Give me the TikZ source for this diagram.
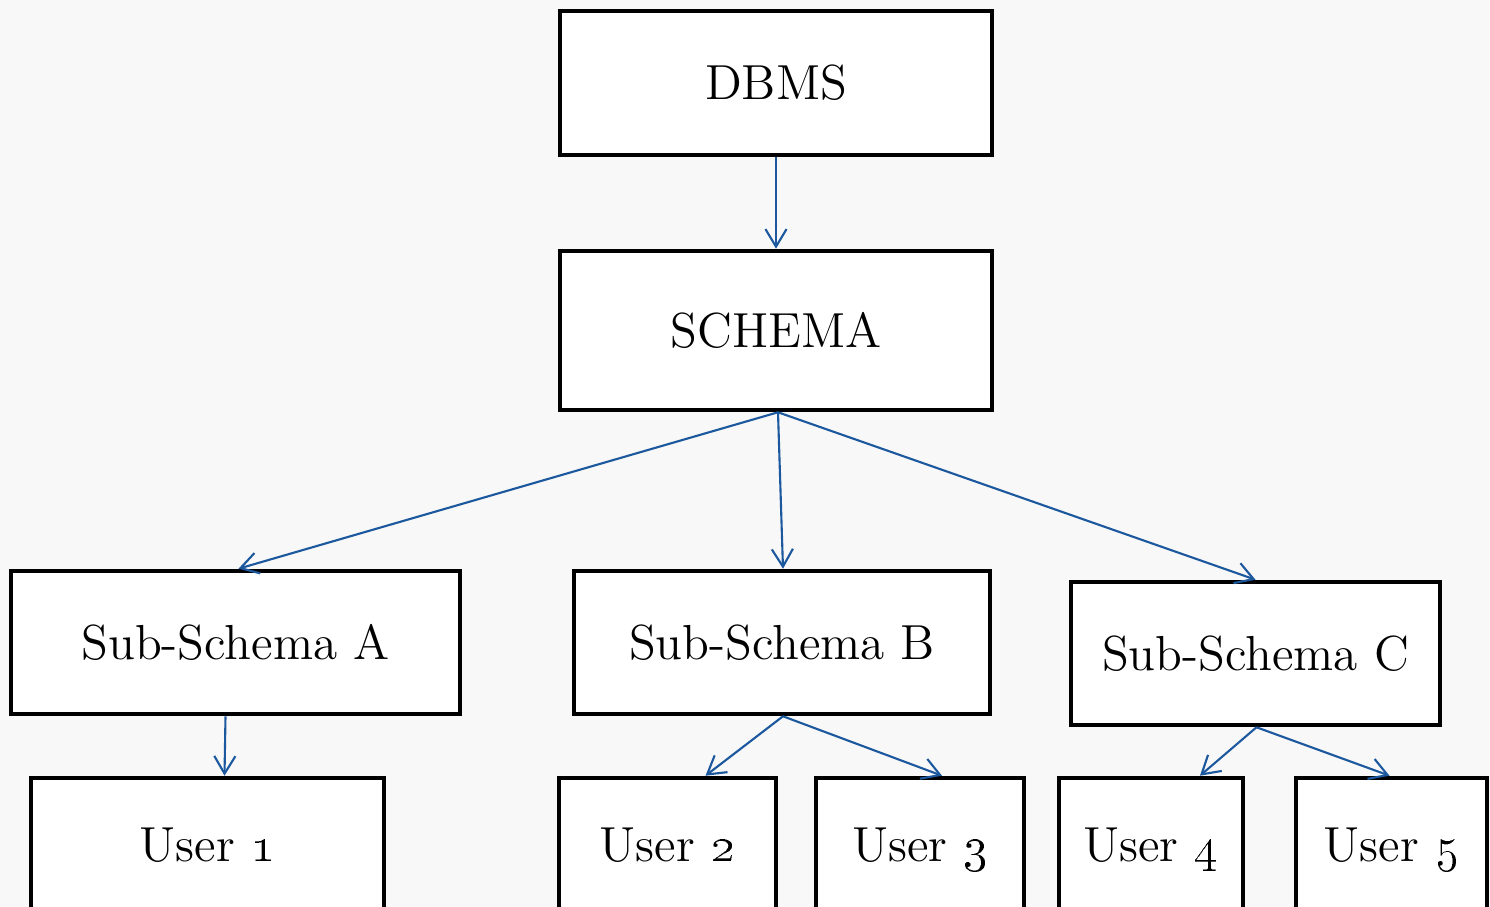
\documentclass[tikz,border=0pt]{standalone}
\usetikzlibrary{arrows.meta,calc}
\definecolor{linkblue}{RGB}{28,88,158}
\definecolor{paper}{RGB}{248,248,248}
\begin{document}
\begin{tikzpicture}[x=0.01cm,y=-0.01cm,
  box/.style={draw=black,line width=1.3pt,fill=white,inner sep=0pt,
    text height=9.6pt,text depth=0pt,
    font=\fontsize{14}{17}\selectfont},
  link/.style={draw=linkblue,line width=0.6pt,
    -{Straight Barb[length=5pt,width=6pt,line width=0.6pt]}}]
  % page background
  \fill[paper] (0,0) rectangle (1490,907);
  \useasboundingbox (0,0) rectangle (1490,907);
  \clip (0,0) rectangle (1490,907);
  % boxes
  \node[box,minimum width=432*0.01cm,minimum height=144*0.01cm] (dbms) at (776,83) {DBMS};
  \node[box,minimum width=432*0.01cm,minimum height=159*0.01cm] (schema) at (776,330.5) {SCHEMA};
  \node[box,minimum width=449*0.01cm,minimum height=143*0.01cm] (subA) at (235.5,642.5) {Sub-Schema A};
  \node[box,minimum width=416*0.01cm,minimum height=143*0.01cm] (subB) at (782,642.5) {Sub-Schema B};
  \node[box,minimum width=369*0.01cm,minimum height=143*0.01cm] (subC) at (1255.5,653.5) {Sub-Schema C};
  \node[box,minimum width=353*0.01cm,minimum height=134*0.01cm] (u1) at (207.5,845) {User \oldstylenums{1}};
  \node[box,minimum width=217*0.01cm,minimum height=134*0.01cm] (u2) at (667.5,845) {User \oldstylenums{2}};
  \node[box,minimum width=208*0.01cm,minimum height=134*0.01cm] (u3) at (920,845) {User \oldstylenums{3}};
  \node[box,minimum width=184*0.01cm,minimum height=134*0.01cm] (u4) at (1151,845) {User \oldstylenums{4}};
  \node[box,minimum width=191*0.01cm,minimum height=134*0.01cm] (u5) at (1391.5,845) {User \oldstylenums{5}};
  % arrow anchor points
  \coordinate (sTop) at ($(schema.south)+(2,0)$);
  \coordinate (aOut) at ($(subA.south)+(-10,0)$);
  \coordinate (bOut) at ($(subB.south)+(1,0)$);
  \coordinate (cOut) at ($(subC.south)+(1,0)$);
  % connectors
  \draw[link] (dbms.south) -- (schema.north);
  \draw[link] (sTop) -- ($(subA.north)+(3,0)$);
  \draw[link] (sTop) -- ($(subB.north)+(1,0)$);
  \draw[link] (sTop) -- (subC.north);
  \draw[link] (aOut) -- ($(u1.north)+(17,0)$);
  \draw[link] (bOut) -- ($(u2.north)+(38,0)$);
  \draw[link] (bOut) -- ($(u3.north)+(22,0)$);
  \draw[link] (cOut) -- ($(u4.north)+(49,0)$);
  \draw[link] (cOut) -- ($(u5.north)+(-2,0)$);
\end{tikzpicture}
\end{document}
